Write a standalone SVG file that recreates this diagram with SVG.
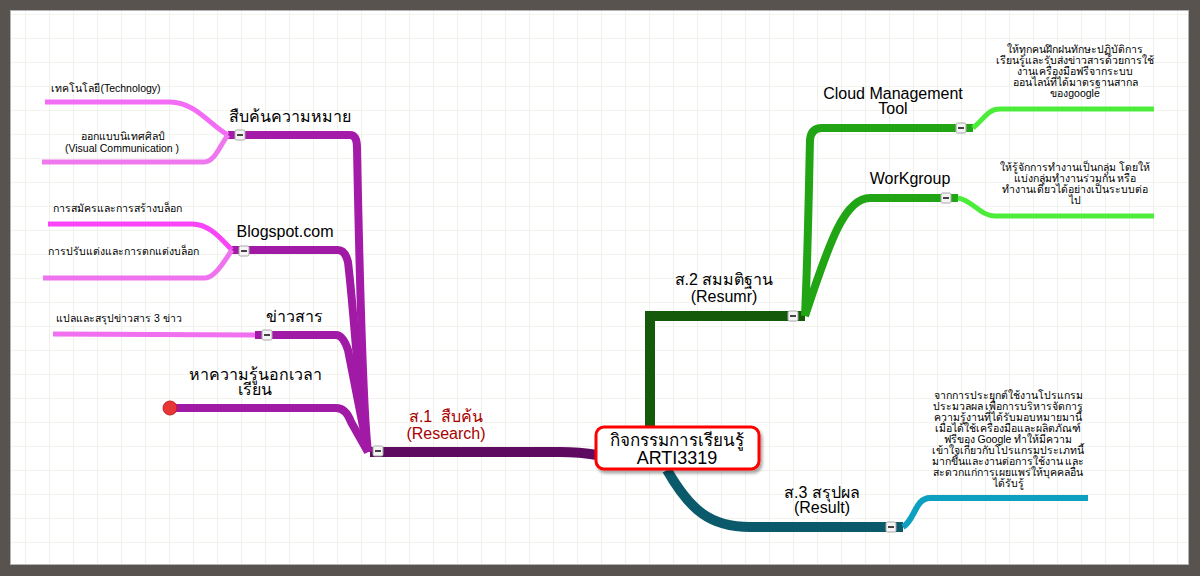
<svg xmlns="http://www.w3.org/2000/svg" width="1200" height="576" viewBox="0 0 1200 576">
<defs>
<pattern id="grid" x="1" y="14" width="24" height="24" patternUnits="userSpaceOnUse">
<path d="M0 0 H24 M0 0 V24" fill="none" stroke="#e6eadc" stroke-width="1.2"/>
</pattern>
<filter id="sh" x="-10%" y="-20%" width="130%" height="160%">
<feDropShadow dx="2" dy="3" stdDeviation="1.5" flood-color="#000" flood-opacity="0.35"/>
</filter>
<g id="btn">
<rect x="-5" y="-5" width="10" height="10" rx="1.5" fill="#f4f4f4" stroke="#a8a8a8" stroke-width="1"/>
<rect x="-3" y="-1" width="6" height="2" fill="#444"/>
</g>
</defs>
<style>
text{font-family:"Liberation Sans","DejaVu Sans",sans-serif;fill:#000;text-anchor:middle}
.b{font-size:16px}
.l{font-size:10.5px}
.red{fill:#a80000}
.c{fill:none;stroke-linecap:butt;stroke-linejoin:round}
</style>
<rect x="0" y="0" width="1200" height="576" fill="#58534f"/>
<rect x="10.5" y="10.5" width="1178" height="554" fill="#fff" stroke="#b4b4b4" stroke-width="1"/>
<rect x="11" y="11" width="1177" height="553" fill="url(#grid)"/>

<g id="connectors">
<path class="c" d="M370 452 L560 452 Q580 452 597 455" stroke="#5e0a60" stroke-width="10"/>
<path class="c" d="M228 135 L350 135 Q357 135 357 148 C359 250 362 400 368 452" stroke="#a31ba8" stroke-width="8"/>
<path class="c" d="M232 250 L338 250 Q345 250 348 262 C355 320 360 420 368 452" stroke="#a01aa5" stroke-width="8"/>
<path class="c" d="M255 335 L336 335 Q343 335 348 350 L368 452" stroke="#a01aa5" stroke-width="8"/>
<path class="c" d="M170 408 L336 408 Q346 408 351 422 L368 452" stroke="#a01aa5" stroke-width="8"/>
<path class="c" d="M45 102 L170 102 C195 102 210 125 228 135" stroke="#f36cf5" stroke-width="5"/>
<path class="c" d="M42 162 L204 162 C215 162 220 145 228 135" stroke="#ef78ef" stroke-width="5"/>
<path class="c" d="M48 224 L192 224 C210 224 222 240 232 250" stroke="#f845f8" stroke-width="5"/>
<path class="c" d="M43 278 L205 278 C215 278 225 260 232 250" stroke="#ef72ef" stroke-width="5"/>
<path class="c" d="M53 334 L255 335" stroke="#f070f0" stroke-width="5"/>
<path class="c" d="M650 428 L650 316 L805 316" stroke="#155a0b" stroke-width="10" style="stroke-linejoin:miter"/>
<path class="c" d="M805 316 C808 250 809 180 810 140 Q811 128 822 128 L973 128" stroke="#22a514" stroke-width="8"/>
<path class="c" d="M805 316 C830 240 845 198 870 198 L958 198" stroke="#22a514" stroke-width="8"/>
<path class="c" d="M973 128 C985 118 988 109 1000 109 L1154 109" stroke="#4ced3a" stroke-width="5"/>
<path class="c" d="M958 198 C972 200 980 216 995 216 L1154 216" stroke="#4ced3a" stroke-width="5"/>
<path class="c" d="M667 470 C690 510 710 527 750 527 L903 527" stroke="#0a5a6b" stroke-width="10"/>
<path class="c" d="M903 527 C915 520 915 498 930 498 L1088 498" stroke="#0ea0c0" stroke-width="6"/>
</g>

<g id="center">
<rect x="596" y="427" width="163" height="42" rx="8" fill="#fff" stroke="#ff0000" stroke-width="3" filter="url(#sh)"/>
<text x="677" y="446" font-size="17">กิจกรรมการเรียนรู้</text>
<text x="677" y="464" font-size="18">ARTI3319</text>
</g>

<g id="n-s1">
<text class="b red" x="446" y="422">ส.1&#160; สืบค้น</text>
<text class="b red" x="446" y="439">(Research)</text>
<use href="#btn" x="378" y="451"/>
</g>
<g id="n-meaning">
<text class="b" x="290" y="122">สืบค้นความหมาย</text>
<use href="#btn" x="240" y="135"/>
</g>
<g id="n-tech"><text class="l" x="106" y="92">เทคโนโลยี(Technology)</text></g>
<g id="n-visual">
<text class="l" x="123" y="140">ออกแบบนิเทศศิลป์</text>
<text class="l" x="122" y="152">(Visual Communication )</text>
</g>
<g id="n-blog">
<text class="b" x="285" y="237">Blogspot.com</text>
<use href="#btn" x="244" y="251"/>
</g>
<g id="n-register"><text class="l" x="117" y="212">การสมัครและการสร้างบล็อก</text></g>
<g id="n-decorate"><text class="l" x="123" y="255">การปรับแต่งและการตกแต่งบล็อก</text></g>
<g id="n-news">
<text class="b" x="294" y="322">ข่าวสาร</text>
<use href="#btn" x="267" y="335"/>
</g>
<g id="n-translate"><text class="l" x="119" y="322">แปลและสรุปข่าวสาร 3 ข่าว</text></g>
<g id="n-extra">
<circle cx="170" cy="408" r="7" fill="#e83535" stroke="#c42020" stroke-width="1"/>
<text class="b" x="255" y="380">หาความรู้นอกเวลา</text>
<text class="b" x="255" y="395">เรียน</text>
</g>

<g id="n-s2">
<text class="b" x="724" y="285">ส.2 สมมติฐาน</text>
<text class="b" x="724" y="302">(Resumr)</text>
<use href="#btn" x="793" y="316"/>
</g>
<g id="n-cloud">
<text class="b" x="893" y="99">Cloud Management</text>
<text class="b" x="893" y="114">Tool</text>
<use href="#btn" x="961" y="128"/>
</g>
<g id="n-cloud-leaf">
<text class="l" x="1075" y="53">ให้ทุกคนฝึกฝนทักษะปฏิบัติการ</text>
<text class="l" x="1075" y="64">เรียนรู้และรับส่งข่าวสารด้วยการใช้</text>
<text class="l" x="1075" y="75">งานเครื่องมือฟรีจากระบบ</text>
<text class="l" x="1075" y="86">ออนไลน์ที่ได้มาตรฐานสากล</text>
<text class="l" x="1075" y="97">ของgoogle</text>
</g>
<g id="n-work">
<text class="b" x="910" y="184">WorKgroup</text>
<use href="#btn" x="946" y="198"/>
</g>
<g id="n-work-leaf">
<text class="l" x="1075" y="171">ให้รู้จักการทำงานเป็นกลุ่ม โดยให้</text>
<text class="l" x="1075" y="182">แบ่งกลุ่มทำงานร่วมกัน หรือ</text>
<text class="l" x="1075" y="193">ทำงานเดี่ยวได้อย่างเป็นระบบต่อ</text>
<text class="l" x="1075" y="204">ไป</text>
</g>
<g id="n-s3">
<text class="b" x="822" y="498">ส.3 สรุปผล</text>
<text class="b" x="822" y="513">(Result)</text>
<use href="#btn" x="891" y="527"/>
</g>
<g id="n-s3-leaf">
<text class="l" x="1008" y="399">จากการประยุกต์ใช้งานโปรแกรม</text>
<text class="l" x="1008" y="410">ประมวลผล เพื่อการบริหารจัดการ</text>
<text class="l" x="1008" y="421">ความรู้งานที่ได้รับมอบหมายมานี้</text>
<text class="l" x="1008" y="432">เมื่อได้ใช้เครื่องมือและผลิตภัณฑ์</text>
<text class="l" x="1008" y="443">ฟรีของ Google ทำให้มีความ</text>
<text class="l" x="1008" y="454">เข้าใจเกี่ยวกับโปรแกรมประเภทนี้</text>
<text class="l" x="1008" y="465">มากขึ้นและงานต่อการใช้งาน และ</text>
<text class="l" x="1008" y="476">สะดวกแก่การเผยแพร่ให้บุคคลอื่น</text>
<text class="l" x="1008" y="487">ได้รับรู้</text>
</g>
</svg>
